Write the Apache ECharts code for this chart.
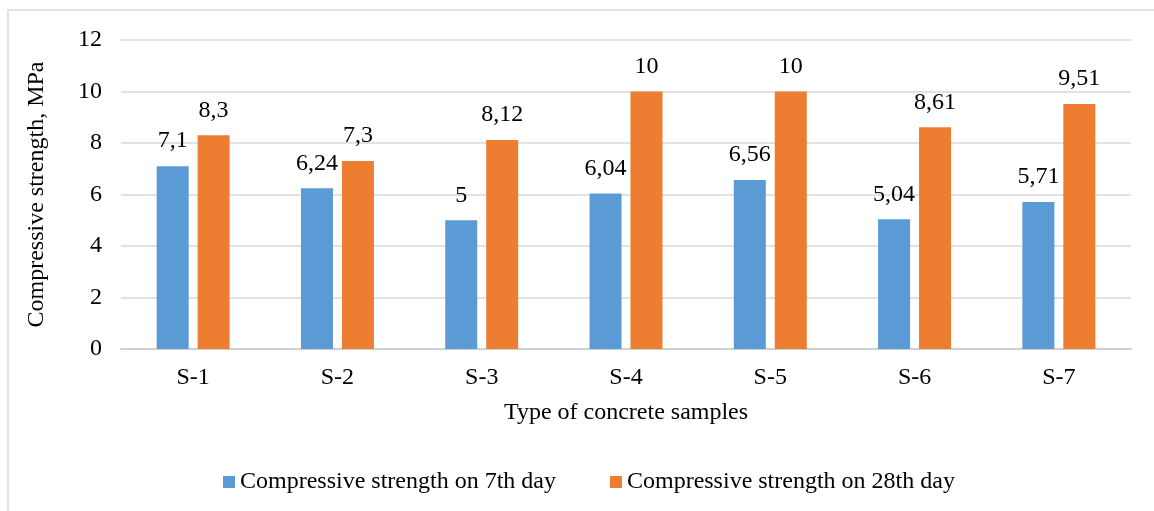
<!DOCTYPE html>
<html><head><meta charset="utf-8">
<script src="https://cdn.jsdelivr.net/npm/echarts@6/dist/echarts.min.js"></script>
<style>html,body{margin:0;padding:0;background:#fff}#c{width:1154px;height:511px}</style>
</head><body><div id="c"></div>
<script>
const categories = ['S-1','S-2','S-3','S-4','S-5','S-6','S-7'];
const day7 = [7.1, 6.24, 5, 6.04, 6.56, 5.04, 5.71];
const day28 = [8.3, 7.3, 8.12, 10, 10, 8.61, 9.51];
const seriesNames = ['Compressive strength on 7th day','Compressive strength on 28th day'];
const yTicks = {min:0, max:12, interval:2};

const font = 'Liberation Serif, Times New Roman, serif';
const fs = 24;
const chart = echarts.init(document.getElementById('c'), null, {renderer:'canvas'});
const fmt = p => String(p.value).replace('.', ',');
chart.setOption({
  animation:false,
  graphic:[{type:'rect', shape:{x:8,y:10,width:1160,height:520}, style:{fill:'none', stroke:'#d9d9d9', lineWidth:1.5}}],
  grid:{left:121, right:23, top:40, bottom:162},
  legend:{top:465, left:218, itemWidth:12, itemHeight:12, itemGap:54, icon:'rect',
    textStyle:{fontFamily:font, fontSize:fs, color:'#000'}},
  xAxis:{type:'category', data:categories, name:'Type of concrete samples', nameLocation:'middle', nameGap:52,
    nameTextStyle:{fontFamily:font, fontSize:fs, color:'#000'},
    axisLine:{lineStyle:{color:'#d0d0d0', width:2}}, axisTick:{show:false},
    axisLabel:{fontFamily:font, fontSize:fs, color:'#000', margin:17}},
  yAxis:{type:'value', min:yTicks.min, max:yTicks.max, interval:yTicks.interval,
    name:'Compressive strength, MPa', nameLocation:'middle', nameGap:72,
    nameTextStyle:{fontFamily:font, fontSize:fs, color:'#000'},
    axisLabel:{fontFamily:font, fontSize:fs, color:'#000', margin:19},
    splitLine:{lineStyle:{color:'#d9d9d9', width:1.5}}},
  series:[
    {name:seriesNames[0], type:'bar', data:day7, barWidth:32, barGap:'28%', itemStyle:{color:'#5b9bd5'},
     label:{show:true, position:'top', distance:13, formatter:fmt, fontFamily:font, fontSize:fs, color:'#000'}},
    {name:seriesNames[1], type:'bar', data:day28, barWidth:32, itemStyle:{color:'#ed7d31'},
     label:{show:true, position:'top', distance:13, formatter:fmt, fontFamily:font, fontSize:fs, color:'#000'}}
  ]
});
</script></body></html>
